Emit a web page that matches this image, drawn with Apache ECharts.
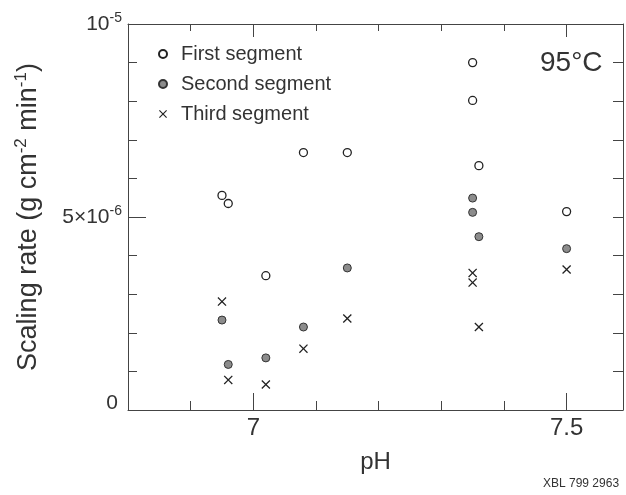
<!DOCTYPE html>
<html>
<head>
<meta charset="utf-8">
<script src="https://cdn.jsdelivr.net/npm/echarts@6/dist/echarts.min.js"></script>
<style>
html, body { margin: 0; padding: 0; background: #fff; }
#main { width: 626px; height: 495px; }
</style>
</head>
<body>
<div id="main"></div>
<script>
// pH values and scaling rates (units of 1e-6 g cm^-2 min^-1)
var phFirst = [6.95, 6.96, 7.02, 7.08, 7.15, 7.35, 7.35, 7.36, 7.50];
var rateFirst = [5.56, 5.35, 3.48, 6.67, 6.67, 9.00, 8.02, 6.33, 5.14];

var phSecond = [6.95, 6.96, 7.02, 7.08, 7.15, 7.35, 7.35, 7.36, 7.50];
var rateSecond = [2.33, 1.18, 1.35, 2.15, 3.68, 5.49, 5.12, 4.49, 4.18];

var phThird = [6.95, 6.96, 7.02, 7.08, 7.15, 7.35, 7.35, 7.36, 7.50];
var rateThird = [2.81, 0.78, 0.66, 1.59, 2.37, 3.55, 3.30, 2.15, 3.64];

var seriesNames = ['First segment', 'Second segment', 'Third segment'];
var phLabels = [7, 7.5];

function pairs(xs, ys) {
    var out = [];
    for (var i = 0; i < xs.length; i++) {
        out.push([xs[i], ys[i]]);
    }
    return out;
}

var crossPath = 'path://M0,1L1,0L5,4L9,0L10,1L6,5L10,9L9,10L5,6L1,10L0,9L4,5Z';
var axisColor = '#444';
var textColor = '#333';
var baseFont = "'Liberation Sans', Arial, sans-serif";

var myChart = echarts.init(document.getElementById('main'));

var option = {
    backgroundColor: '#fff',
    animation: false,
    textStyle: { fontFamily: baseFont },
    grid: { left: 128, right: 0, top: 24, bottom: 85 },
    legend: {
        orient: 'vertical',
        left: 153,
        top: 39,
        itemWidth: 26,
        itemHeight: 8,
        itemGap: 10,
        data: seriesNames,
        textStyle: {
            fontFamily: baseFont,
            fontSize: 20,
            lineHeight: 20,
            color: textColor
        }
    },
    xAxis: [
        {
            type: 'value', position: 'bottom', min: 6.8, max: 7.59, interval: 0.1,
            splitLine: { show: false },
            axisLine: { lineStyle: { color: axisColor, width: 1 } },
            axisTick: { inside: true, length: 9, lineStyle: { color: axisColor } },
            axisLabel: {
                margin: 6, fontSize: 24, color: textColor,
                showMinLabel: true, showMaxLabel: true,
                formatter: function (v) {
                    for (var i = 0; i < phLabels.length; i++) {
                        if (Math.abs(v - phLabels[i]) < 1e-6) return String(phLabels[i]);
                    }
                    return '';
                }
            },
            name: 'pH', nameLocation: 'middle', nameGap: 40,
            nameTextStyle: { fontSize: 24, color: textColor }
        },
        {
            // long ticks at the labelled pH values
            type: 'value', position: 'bottom', min: 6.8, max: 7.59,
            splitLine: { show: false },
            axisLine: { show: false },
            axisTick: { show: true, inside: true, length: 17, customValues: phLabels, lineStyle: { color: axisColor } },
            axisLabel: { show: false }
        },
        {
            type: 'value', position: 'top', min: 6.8, max: 7.59, interval: 0.1,
            splitLine: { show: false },
            axisLine: { lineStyle: { color: axisColor, width: 1 } },
            axisTick: { inside: true, length: 7, lineStyle: { color: axisColor } },
            axisLabel: { show: false }
        },
        {
            type: 'value', position: 'top', min: 6.8, max: 7.59,
            splitLine: { show: false },
            axisLine: { show: false },
            axisTick: { show: true, inside: true, length: 13, customValues: phLabels, lineStyle: { color: axisColor } },
            axisLabel: { show: false }
        }
    ],
    yAxis: [
        {
            type: 'value', position: 'left', min: 0, max: 10, interval: 5,
            splitLine: { show: false },
            axisLine: { lineStyle: { color: axisColor, width: 1 } },
            axisTick: { inside: true, length: 18, lineStyle: { color: axisColor } },
            minorTick: { show: true, splitNumber: 5, length: 9, lineStyle: { color: axisColor } },
            axisLabel: {
                margin: 6,
                formatter: function (v) {
                    if (v === 10) return '{n|10}{s|-5}';
                    if (v === 5) return '{n|5×10}{s|-6}';
                    if (v === 0) return '{z|0}';
                    return '';
                },
                rich: {
                    n: { fontSize: 21, lineHeight: 26, color: textColor },
                    s: { fontSize: 14, verticalAlign: 'top', color: textColor },
                    z: { fontSize: 21, color: textColor, padding: [0, 4, 14, 0] }
                }
            },
            name: 'Scaling rate (g cm{s|-2} min{s|-1})',
            nameLocation: 'middle', nameGap: 83,
            nameTextStyle: {
                fontSize: 27, lineHeight: 32, color: textColor,
                rich: { s: { fontSize: 17, verticalAlign: 'top', color: textColor } }
            }
        },
        {
            type: 'value', position: 'right', min: 0, max: 10, interval: 1,
            splitLine: { show: false },
            axisLine: { lineStyle: { color: axisColor, width: 1 } },
            axisTick: { inside: true, length: 10, lineStyle: { color: axisColor } },
            axisLabel: { show: false }
        }
    ],
    graphic: [
        {
            type: 'text', left: 540, top: 49,
            style: { text: '95°C', fontSize: 28, fontFamily: baseFont, fill: textColor }
        },
        {
            type: 'text', left: 543, top: 478,
            style: { text: 'XBL 799 2963', fontSize: 12, fontFamily: baseFont, fill: textColor }
        }
    ],
    series: [
        {
            name: seriesNames[0], type: 'scatter', xAxisIndex: 0, yAxisIndex: 0,
            symbol: 'circle', symbolSize: 8,
            itemStyle: { color: '#fff', borderColor: '#222', borderWidth: 1.3, opacity: 1 },
            data: pairs(phFirst, rateFirst)
        },
        {
            name: seriesNames[1], type: 'scatter', xAxisIndex: 0, yAxisIndex: 0,
            symbol: 'circle', symbolSize: 8,
            itemStyle: { color: '#8c8c8c', borderColor: '#333', borderWidth: 1, opacity: 1 },
            data: pairs(phSecond, rateSecond)
        },
        {
            name: seriesNames[2], type: 'scatter', xAxisIndex: 0, yAxisIndex: 0,
            symbol: crossPath, symbolSize: 9, symbolKeepAspect: true,
            itemStyle: { color: '#222', opacity: 1 },
            data: pairs(phThird, rateThird)
        }
    ]
};

myChart.setOption(option);
</script>
</body>
</html>
